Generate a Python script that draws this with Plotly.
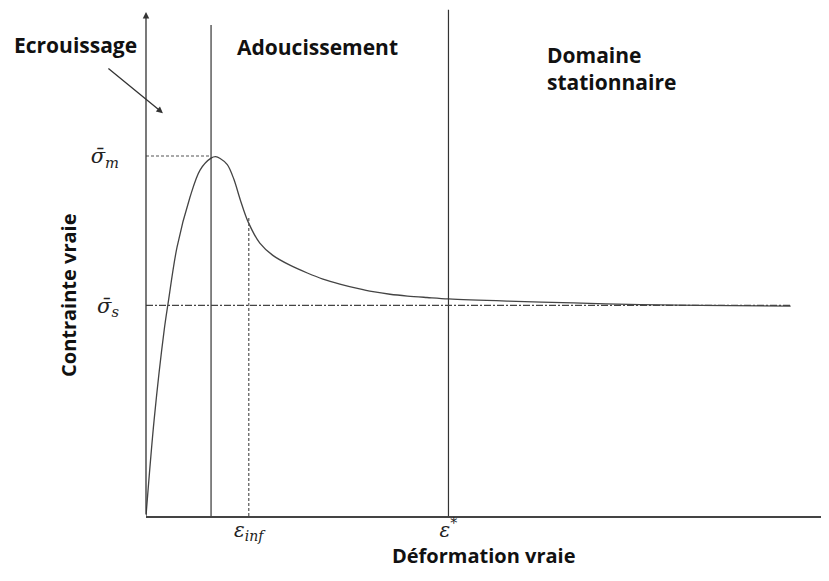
import plotly.graph_objects as go

# ---- data (arbitrary units: strain, stress) ----
strain = [0.0, 0.125, 0.28, 0.338, 0.477, 0.677, 0.831, 1.0, 1.07, 1.14,
          1.25, 1.35, 1.45, 1.57, 1.75, 1.95, 2.22, 2.48, 2.72, 2.98, 3.25, 3.49,
          3.75, 4.02, 4.32, 4.65, 5.55, 6.57, 7.6, 8.52, 9.91]
stress = [0.0, 26.7, 51.7, 58.9, 74.7, 88.6, 96.1, 99.4, 99.8, 99.3,
          97.6, 93.6, 87.8, 81.7, 75.8, 72.4, 69.6, 67.5, 65.8, 64.4, 63.2, 62.3,
          61.6, 61.1, 60.7, 60.3, 59.7, 59.2, 58.7, 58.5, 58.3]

eps_peak = 1.0
eps_inf = 1.58
eps_star = 4.65
sigma_m = 100.0
sigma_s = 58.5
sigma_inf = 82.8
strain_end = 9.92

x_tick_vals = [eps_inf, eps_star]
x_tick_text = ["<i>ε</i><sub><i>inf</i></sub>", "<i>ε</i><sup>*</sup>"]
y_tick_vals = [sigma_s, sigma_m]
y_tick_text = ["<i>σ̄</i><sub><i>s</i></sub>", "<i>σ̄</i><sub><i>m</i></sub>"]

region_labels = ["Ecrouissage", "Adoucissement", "Domaine<br>stationnaire"]
x_title = "Déformation vraie"
y_title = "Contrainte vraie"

YMAX = 141.11
XMAX = 10.5
LINE = "#333333"
PW, PH = 683, 508  # plot area size in px (for placing texts)

fig = go.Figure()

fig.add_trace(go.Scatter(x=strain, y=stress, mode="lines",
                         line=dict(color="#444444", width=1.3, shape="spline", smoothing=0.9),
                         hoverinfo="skip"))
fig.add_trace(go.Scatter(x=[eps_peak, eps_peak], y=[0, 136.4], mode="lines",
                         line=dict(color=LINE, width=1.2), hoverinfo="skip"))
fig.add_trace(go.Scatter(x=[eps_star, eps_star], y=[0, 140.6], mode="lines",
                         line=dict(color=LINE, width=1.2), hoverinfo="skip"))
fig.add_trace(go.Scatter(x=[0, eps_peak], y=[sigma_m, sigma_m], mode="lines",
                         line=dict(color="#555555", width=1.2, dash="3px,2px"), hoverinfo="skip"))
fig.add_trace(go.Scatter(x=[eps_inf, eps_inf], y=[0, sigma_inf], mode="lines",
                         line=dict(color="#555555", width=1.2, dash="3px,2px"), hoverinfo="skip"))
fig.add_trace(go.Scatter(x=[0, strain_end], y=[sigma_s, sigma_s], mode="lines",
                         line=dict(color="#444444", width=1.2, dash="7px,2px,2px,2px"), hoverinfo="skip"))

bold = dict(family="Open Sans", size=21, color="#111111", weight="bold")
title_font = dict(family="Open Sans", size=20, color="#111111", weight="bold")


def px_x(px):
    return (px - 146) / PW


def px_y(py):
    return 1 - (py - 8) / PH


annotations = [
    dict(x=0, y=140, ax=0, ay=0, xref="x", yref="y", axref="x", ayref="y",
         showarrow=True, arrowhead=2, arrowsize=1, arrowwidth=1.3, arrowcolor=LINE, text=""),
    dict(x=0.26, y=111.9, xref="x", yref="y", ax=-56, ay=-46,
         showarrow=True, arrowhead=2, arrowsize=1, arrowwidth=1.3, arrowcolor=LINE, text=""),
    dict(x=px_x(12), y=px_y(45), xref="paper", yref="paper", xanchor="left", yanchor="middle",
         text=region_labels[0], showarrow=False, font=bold),
    dict(x=px_x(235), y=px_y(47), xref="paper", yref="paper", xanchor="left", yanchor="middle",
         text=region_labels[1], showarrow=False, font=bold),
    dict(x=px_x(545), y=px_y(68), xref="paper", yref="paper", xanchor="left", yanchor="middle",
         text=region_labels[2], showarrow=False, align="left", font=bold),
    dict(x=px_x(483.5), y=px_y(555), xref="paper", yref="paper", xanchor="center", yanchor="middle",
         text=x_title, showarrow=False, font=title_font),
    dict(x=px_x(68), y=px_y(295), xref="paper", yref="paper", xanchor="center", yanchor="middle",
         text=y_title, showarrow=False, textangle=-90, font=title_font),
]

fig.update_layout(
    width=829, height=581,
    margin=dict(l=138, r=8, t=0, b=73, autoexpand=False),
    paper_bgcolor="white", plot_bgcolor="white",
    showlegend=False,
    annotations=annotations,
    xaxis=dict(range=[0, XMAX], showgrid=False, zeroline=False, automargin=False,
               showline=True, linecolor="#444444", linewidth=1.5,
               tickvals=x_tick_vals, ticktext=x_tick_text, ticks="",
               ticklabelstandoff=-5,
               tickfont=dict(family="DejaVu Serif", size=20, color="#222222")),
    yaxis=dict(range=[0, YMAX], showgrid=False, zeroline=False, showline=False, automargin=False,
               tickvals=y_tick_vals, ticktext=y_tick_text, ticks="",
               ticklabelstandoff=26,
               tickfont=dict(family="DejaVu Serif", size=21, color="#222222")),
)

fig.write_html("out.html")
